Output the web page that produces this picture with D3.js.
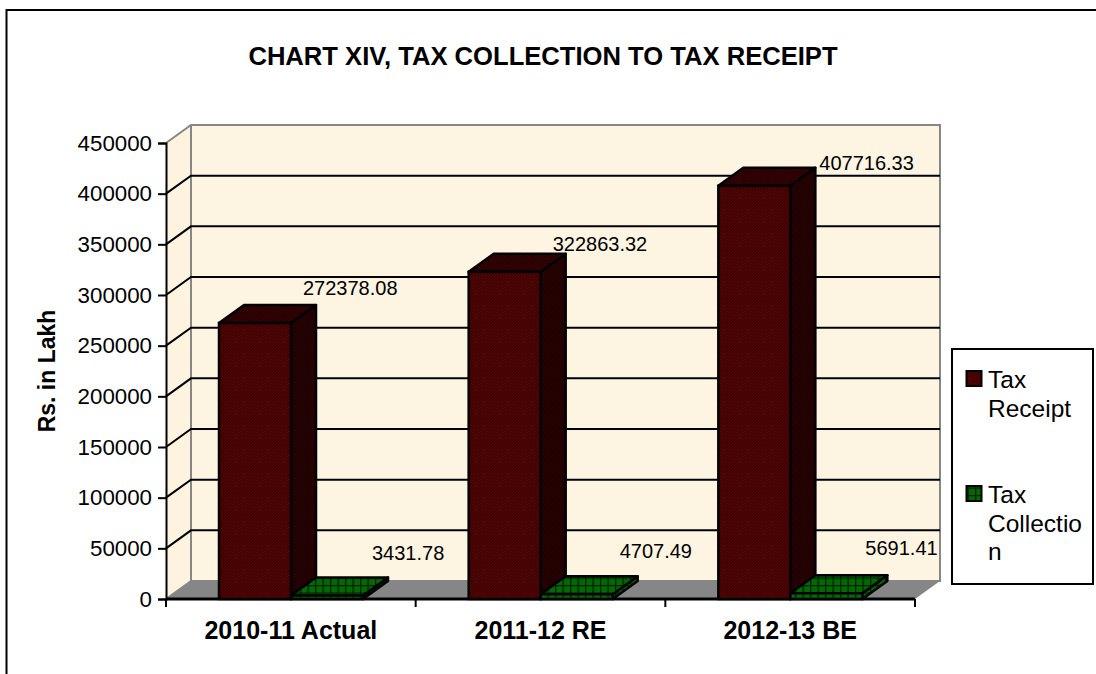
<!DOCTYPE html>
<html>
<head>
<meta charset="utf-8">
<script src="https://cdn.jsdelivr.net/npm/d3@7"></script>
<style>
html, body { margin: 0; padding: 0; background: #fff; overflow: hidden; }
text { font-family: "Liberation Sans", Arial, sans-serif; fill: #000; }
</style>
</head>
<body>
<div id="chart"></div>
<script>
const categories = ["2010-11 Actual", "2011-12 RE", "2012-13 BE"];
const taxReceipt = [272378.08, 322863.32, 407716.33];
const taxCollection = [3431.78, 4707.49, 5691.41];
const yTicks = [0, 50000, 100000, 150000, 200000, 250000, 300000, 350000, 400000, 450000];
const seriesNames = ["Tax Receipt", "Tax Collection"];

const WIDTH = 1096, HEIGHT = 674;
const PLOT = { LEFT: 166, RIGHT: 915, TOP: 143, BOTTOM: 599 };
const DEPTH = { X: 25, Y: -18 };

const svg = d3.select("#chart").append("svg")
    .attr("width", WIDTH)
    .attr("height", HEIGHT)
    .style("display", "block");

const defs = svg.append("defs");

// wall texture
const paper = defs.append("filter").attr("id", "paper")
    .attr("x", 0).attr("y", 0).attr("width", 1).attr("height", 1);
paper.append("feTurbulence").attr("type", "fractalNoise").attr("baseFrequency", 0.04)
    .attr("numOctaves", 3).attr("seed", 4).attr("result", "n");
paper.append("feColorMatrix").attr("in", "n").attr("type", "matrix")
    .attr("values", "0 0 0 0 0.98  0 0 0 0 0.90  0 0 0 0 0.76  1.6 0 0 0 -0.55").attr("result", "c");
paper.append("feFlood").attr("flood-color", "#fdf4e2").attr("result", "bg");
paper.append("feMerge").selectAll("feMergeNode").data(["bg", "c"]).enter()
    .append("feMergeNode").attr("in", d => d);

// bar hatches
function checker(id, bg, fg) {
    const p = defs.append("pattern").attr("id", id)
        .attr("patternUnits", "userSpaceOnUse").attr("width", 3).attr("height", 3);
    p.append("rect").attr("width", 3).attr("height", 3).attr("fill", bg);
    p.append("rect").attr("width", 1.5).attr("height", 1.5).attr("fill", fg);
    p.append("rect").attr("x", 1.5).attr("y", 1.5).attr("width", 1.5).attr("height", 1.5).attr("fill", fg);
}
checker("redFront", "#700000", "#1e0000");
checker("redSide", "#360000", "#100000");
checker("redTop", "#440000", "#160000");
const grid = defs.append("pattern").attr("id", "greenGrid")
    .attr("patternUnits", "userSpaceOnUse").attr("width", 7.5).attr("height", 7.5);
grid.append("rect").attr("width", 7.5).attr("height", 7.5).attr("fill", "#006a00");
grid.append("path").attr("d", "M0 0H7.5M0 0V7.5").attr("stroke", "#001c00").attr("stroke-width", 2.5);

const x = d3.scaleBand().domain(categories).range([PLOT.LEFT, PLOT.RIGHT]);
const y = d3.scaleLinear().domain([0, 450000]).range([PLOT.BOTTOM, PLOT.TOP]);
const barX = d3.scaleLinear().domain([0, 1]).range([53, 125]);  // px offset inside a band

const pts = a => a.map(p => p.join(",")).join(" ");

// walls and floor
svg.append("rect")
    .attr("x", PLOT.LEFT + DEPTH.X).attr("y", PLOT.TOP + DEPTH.Y)
    .attr("width", PLOT.RIGHT - PLOT.LEFT).attr("height", PLOT.BOTTOM - PLOT.TOP)
    .attr("fill", "#fdf3df").attr("filter", "url(#paper)");
svg.append("polygon")
    .attr("points", pts([[PLOT.LEFT, PLOT.TOP], [PLOT.LEFT + DEPTH.X, PLOT.TOP + DEPTH.Y],
        [PLOT.LEFT + DEPTH.X, PLOT.BOTTOM + DEPTH.Y], [PLOT.LEFT, PLOT.BOTTOM]]))
    .attr("fill", "#fdf3df");
svg.append("polygon")
    .attr("points", pts([[PLOT.LEFT, PLOT.BOTTOM], [PLOT.LEFT + DEPTH.X, PLOT.BOTTOM + DEPTH.Y],
        [PLOT.RIGHT + DEPTH.X, PLOT.BOTTOM + DEPTH.Y], [PLOT.RIGHT, PLOT.BOTTOM]]))
    .attr("fill", "#868686");

// wall outline
svg.append("path")
    .attr("d", `M${PLOT.LEFT},${PLOT.TOP}L${PLOT.LEFT + DEPTH.X},${PLOT.TOP + DEPTH.Y}` +
        `H${PLOT.RIGHT + DEPTH.X}V${PLOT.BOTTOM + DEPTH.Y}H${PLOT.LEFT + DEPTH.X}V${PLOT.TOP + DEPTH.Y}` +
        `M${PLOT.LEFT},${PLOT.BOTTOM}L${PLOT.LEFT + DEPTH.X},${PLOT.BOTTOM + DEPTH.Y}`)
    .attr("fill", "none").attr("stroke", "#868686").attr("stroke-width", 2);

// gridlines
svg.append("g").selectAll("path")
    .data(yTicks.filter(d => d > 0 && d < 450000))
    .enter().append("path")
    .attr("d", d => `M${PLOT.LEFT},${y(d)}L${PLOT.LEFT + DEPTH.X},${y(d) + DEPTH.Y}H${PLOT.RIGHT + DEPTH.X}`)
    .attr("fill", "none").attr("stroke", "#000").attr("stroke-width", 2);

// axes
const yAxis = d3.axisLeft(y).tickValues(yTicks).tickFormat(d3.format("d")).tickSize(8).tickPadding(6);
const yGroup = svg.append("g").attr("transform", `translate(${PLOT.LEFT},0)`).call(yAxis);
yGroup.selectAll("line,path").attr("stroke", "#000").attr("stroke-width", 2);
yGroup.selectAll("text").style("font-size", "22.3px").style("font-family", '"Liberation Sans"');

const xAxis = d3.axisBottom(x).tickSize(8).tickPadding(14);
const xGroup = svg.append("g").attr("transform", `translate(0,${PLOT.BOTTOM})`).call(xAxis);
xGroup.selectAll(".tick line").remove();
xGroup.select("path").attr("d", `M${PLOT.LEFT},0H${PLOT.RIGHT}`).attr("stroke", "#000").attr("stroke-width", 3);
xGroup.selectAll("text").style("font-size", "25px").style("font-weight", "bold")
    .style("font-family", '"Liberation Sans"');
const bandEdges = categories.map(c => x(c)).concat([PLOT.RIGHT]);
xGroup.selectAll("line.edge").data(bandEdges).enter().append("line").attr("class", "edge")
    .attr("x1", d => d).attr("x2", d => d).attr("y1", 0).attr("y2", 8)
    .attr("stroke", "#000").attr("stroke-width", 2);

// one 3d box
function box(g, left, right, top, bottom, fills, sw) {
    const dx = DEPTH.X, dy = DEPTH.Y;
    g.append("polygon").attr("points", pts([[right, top], [right + dx, top + dy], [right + dx, bottom + dy], [right, bottom]]))
        .attr("fill", fills[1]).attr("stroke", "#000").attr("stroke-width", sw).attr("stroke-linejoin", "round");
    g.append("polygon").attr("points", pts([[left, top], [left + dx, top + dy], [right + dx, top + dy], [right, top]]))
        .attr("fill", fills[2]).attr("stroke", "#000").attr("stroke-width", sw).attr("stroke-linejoin", "round");
    g.append("rect").attr("x", left).attr("y", top).attr("width", right - left).attr("height", bottom - top)
        .attr("fill", fills[0]).attr("stroke", "#000").attr("stroke-width", sw);
}

const bars = svg.append("g");
categories.forEach((c, i) => {
    const left = x(c) + barX(0), right = x(c) + barX(1), w = right - left;
    box(bars, left, right, y(taxReceipt[i]), PLOT.BOTTOM, ["url(#redFront)", "url(#redSide)", "url(#redTop)"], 2.5);
    box(bars, right, right + w, y(taxCollection[i]), PLOT.BOTTOM, ["url(#greenGrid)", "url(#greenGrid)", "url(#greenGrid)"], 2.5);
});

// value labels, the source placed each one by hand so the nudges differ
const receiptNudge = [[12, -28], [12, -21], [29, -16]];
const collectionNudge = [[9, -36], [7, -36], [3, -38]];
const labels = svg.append("g").style("font-size", "20px");
categories.forEach((c, i) => {
    const right = x(c) + barX(1), w = barX(1) - barX(0);
    labels.append("text").attr("x", right + receiptNudge[i][0]).attr("y", y(taxReceipt[i]) + receiptNudge[i][1])
        .text(taxReceipt[i].toFixed(2));
    labels.append("text").attr("x", right + w + collectionNudge[i][0]).attr("y", y(taxCollection[i]) + collectionNudge[i][1])
        .text(taxCollection[i].toFixed(2));
});

// title and y label
svg.append("text").attr("x", 543).attr("y", 65).attr("text-anchor", "middle")
    .style("font-size", "25.6px").style("font-weight", "bold")
    .text("CHART XIV, TAX COLLECTION TO TAX RECEIPT");
svg.append("text").attr("transform", "translate(55,371) rotate(-90)").attr("text-anchor", "middle")
    .style("font-size", "23px").style("font-weight", "bold").text("Rs. in Lakh");

// legend, lines wrap the way the box forces them to
const legendLines = [["Tax", "Receipt"], ["Tax", "Collectio", "n"]];
const legendTops = [383, 498];
const legendFills = ["url(#redFront)", "url(#greenGrid)"];
const legend = svg.append("g");
legend.append("rect").attr("x", 952).attr("y", 349).attr("width", 141).attr("height", 235)
    .attr("fill", "#fff").attr("stroke", "#000").attr("stroke-width", 2);
seriesNames.forEach((s, i) => {
    legend.append("rect").attr("x", 966.5).attr("y", legendTops[i] - 12).attr("width", 15).attr("height", 15)
        .attr("fill", legendFills[i]).attr("stroke", "#000").attr("stroke-width", 2);
    legendLines[i].forEach((t, j) => {
        legend.append("text").attr("x", 988).attr("y", legendTops[i] + 5 + j * 28.5)
            .style("font-size", "24.5px").text(t);
    });
});

// outer frame, cut off by the page on the right and bottom
svg.append("path").attr("d", "M6.5,674V10H1096")
    .attr("fill", "none").attr("stroke", "#000").attr("stroke-width", 2);
</script>
</body>
</html>
